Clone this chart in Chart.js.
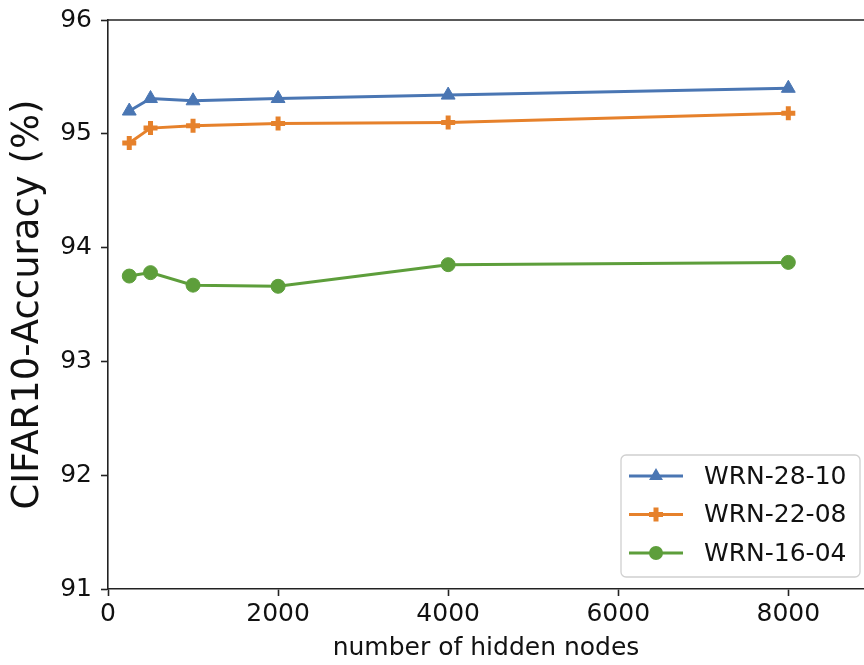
<!DOCTYPE html>
<html>
<head>
<meta charset="utf-8">
<title>CIFAR10 accuracy vs hidden nodes</title>
<script src="https://cdn.jsdelivr.net/npm/chart.js@4.4.1/dist/chart.umd.min.js"></script>
<style>
    html, body { margin: 0; padding: 0; background: #fff; }
    #plot { display: block; }
</style>
</head>
<body>
<canvas id="plot" width="864" height="665"></canvas>
<script>
    const hiddenNodes = [250, 500, 1000, 2000, 4000, 8000];
    const wrn2810 = [95.20, 95.31, 95.29, 95.31, 95.34, 95.40];
    const wrn2208 = [94.92, 95.05, 95.07, 95.09, 95.10, 95.18];
    const wrn1604 = [93.75, 93.78, 93.67, 93.66, 93.85, 93.87];
    const xTicks = [0, 2000, 4000, 6000, 8000];
    const yTicks = [91, 92, 93, 94, 95, 96];

    const seriesNames = ["WRN-28-10", "WRN-22-08", "WRN-16-04"];
    const colors = ["#4a76b3", "#e6812b", "#5d9e3b"];
    const markers = ["triangle", "cross", "circle"];
    const axisColor = "#222";
    const fontFamily = "'DejaVu Sans', sans-serif";

    function points(values) {
        return hiddenNodes.map((x, i) => ({ x, y: values[i] }));
    }

    function dataset(index, values) {
        const isPlus = markers[index] === "cross";
        return {
            label: seriesNames[index],
            data: points(values),
            borderColor: colors[index],
            backgroundColor: colors[index],
            borderWidth: 3,
            pointStyle: markers[index],
            pointRadius: markers[index] === "triangle" ? 8 : 7,
            pointBorderWidth: isPlus ? 5 : 1,
            pointBorderColor: colors[index],
            pointBackgroundColor: colors[index],
            tension: 0
        };
    }

    // matplotlib-like marker shapes for the legend handles
    function drawMarker(ctx, style, x, y, color) {
        ctx.save();
        ctx.fillStyle = color;
        ctx.strokeStyle = color;
        ctx.beginPath();
        if (style === "triangle") {
            const r = 8;
            ctx.moveTo(x, y - r);
            ctx.lineTo(x + r * 0.866, y + r * 0.5);
            ctx.lineTo(x - r * 0.866, y + r * 0.5);
            ctx.closePath();
            ctx.fill();
        } else if (style === "cross") {
            ctx.lineWidth = 5;
            ctx.moveTo(x - 7, y);
            ctx.lineTo(x + 7, y);
            ctx.moveTo(x, y - 7);
            ctx.lineTo(x, y + 7);
            ctx.stroke();
        } else {
            ctx.arc(x, y, 7, 0, Math.PI * 2);
            ctx.fill();
        }
        ctx.restore();
    }

    const framePlugin = {
        id: "frame",
        afterDraw(chart) {
            const { ctx, chartArea } = chart;
            ctx.save();
            ctx.strokeStyle = axisColor;
            ctx.lineWidth = 1.6;
            ctx.beginPath();
            ctx.moveTo(chartArea.left, chartArea.top);
            ctx.lineTo(chartArea.right, chartArea.top);
            ctx.stroke();

            // legend box, lower right
            const box = { x: 621, y: 455, w: 239, h: 122 };
            ctx.fillStyle = "rgba(255,255,255,0.85)";
            ctx.strokeStyle = "#d0d0d0";
            ctx.lineWidth = 1.3;
            ctx.beginPath();
            ctx.roundRect(box.x, box.y, box.w, box.h, 5);
            ctx.fill();
            ctx.stroke();

            ctx.font = "25px " + fontFamily;
            ctx.textBaseline = "middle";
            ctx.textAlign = "left";
            seriesNames.forEach((name, i) => {
                const y = 476 + i * 38.5;
                ctx.strokeStyle = colors[i];
                ctx.lineWidth = 3;
                ctx.beginPath();
                ctx.moveTo(629, y);
                ctx.lineTo(683, y);
                ctx.stroke();
                drawMarker(ctx, markers[i], 656, y, colors[i]);
                ctx.fillStyle = "#111";
                ctx.fillText(name, 704, y + 1);
            });
            ctx.restore();
        }
    };

    new Chart(document.getElementById("plot"), {
        type: "line",
        data: {
            datasets: [dataset(0, wrn2810), dataset(1, wrn2208), dataset(2, wrn1604)]
        },
        options: {
            responsive: false,
            devicePixelRatio: 1,
            animation: false,
            layout: { autoPadding: false, padding: { top: 20, right: 0, left: 0, bottom: 0 } },
            plugins: {
                legend: { display: false },
                tooltip: { enabled: false }
            },
            scales: {
                x: {
                    type: "linear",
                    min: 0,
                    max: 8890,
                    afterFit: scale => {
                        scale.height = 76;
                        scale.paddingLeft = 0;
                        scale.paddingRight = 0;
                    },
                    afterBuildTicks: scale => { scale.ticks = xTicks.map(value => ({ value })); },
                    grid: { drawOnChartArea: false, drawTicks: true, tickLength: 7, tickColor: axisColor, tickWidth: 1.6 },
                    border: { display: true, color: axisColor, width: 1.6 },
                    ticks: {
                        color: "#111",
                        padding: 3,
                        maxRotation: 0,
                        font: { family: fontFamily, size: 25 },
                        callback: value => String(value)
                    },
                    title: {
                        display: true,
                        text: "number of hidden nodes",
                        color: "#111",
                        padding: { top: 0, bottom: 2 },
                        font: { family: fontFamily, size: 25 }
                    }
                },
                y: {
                    min: 91,
                    max: 96,
                    afterFit: scale => {
                        scale.width = 108;
                        scale.paddingTop = 0;
                        scale.paddingBottom = 0;
                    },
                    afterBuildTicks: scale => { scale.ticks = yTicks.map(value => ({ value })); },
                    grid: { drawOnChartArea: false, drawTicks: true, tickLength: 7, tickColor: axisColor, tickWidth: 1.6 },
                    border: { display: true, color: axisColor, width: 1.6 },
                    ticks: { color: "#111", padding: 9, font: { family: fontFamily, size: 25 } },
                    title: {
                        display: true,
                        text: "CIFAR10-Accuracy (%)",
                        color: "#111",
                        padding: { top: 6, bottom: 0 },
                        font: { family: fontFamily, size: 37 }
                    }
                }
            }
        },
        plugins: [framePlugin]
    });
</script>
</body>
</html>
